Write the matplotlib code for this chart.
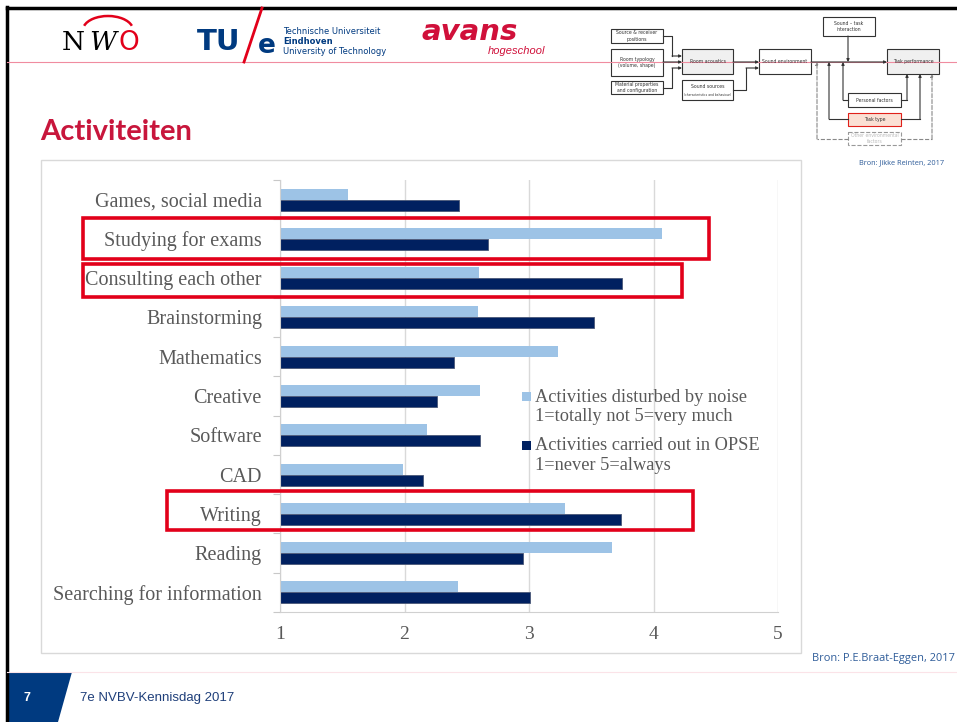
import numpy as np
import matplotlib
matplotlib.use("Agg")
import matplotlib.pyplot as plt
from matplotlib.patches import Rectangle, Polygon, Arc

# chart data
categories = ["Games, social media", "Studying for exams", "Consulting each other",
              "Brainstorming", "Mathematics", "Creative", "Software", "CAD",
              "Writing", "Reading", "Searching for information"]
disturbed = [1.55, 4.07, 2.60, 2.59, 3.23, 2.61, 2.18, 1.99, 3.29, 3.67, 2.43]
carried_out = [2.44, 2.67, 3.75, 3.52, 2.40, 2.26, 2.61, 2.15, 3.74, 2.95, 3.01]
xticks = [1, 2, 3, 4, 5]
legend_labels = [["Activities disturbed by noise", "1=totally not 5=very much"],
                 ["Activities carried out in OPSE", "1=never 5=always"]]

W, H = 957, 722
LIGHT = "#9DC3E6"
DARK = "#002060"
GREY = "#595959"
RED = "#E2001A"
SERIF = "Liberation Serif"

fig = plt.figure(figsize=(W / 100, H / 100), dpi=100)

# background layer in pixel coords
bg = fig.add_axes([0, 0, 1, 1], zorder=-5)
bg.set_xlim(0, W)
bg.set_ylim(H, 0)
bg.axis("off")

# slide frame and header line
bg.plot([7, 7], [7, H], color="black", lw=2.5)
bg.plot([7, W], [7.5, 7.5], color="black", lw=2.5)
bg.plot([7, W], [62, 62], color="#F08CA0", lw=0.8)
bg.plot([7, W], [672, 672], color="#FBE3E8", lw=0.8)

# logos (approximate, as text)
bg.text(62, 43, "N", fontsize=19, family="DejaVu Serif", va="center", color="black")
bg.text(89, 43, "W", fontsize=19, family="DejaVu Serif", style="italic", va="center", color="black")
bg.text(118, 43, "O", fontsize=19, family="DejaVu Sans", va="center", color="#E2001A")
# y axis is flipped here, so the dome is drawn with angles 190..350
bg.add_patch(Arc((108, 30), 50, 28, theta1=190, theta2=350, color="#E2001A", lw=1.8))
bg.text(197, 42, "TU", fontsize=21, family="DejaVu Sans", weight="bold", va="center", color="#003A80")
bg.plot([244, 262], [62, 8], color="#E2001A", lw=2)
bg.text(258, 46, "e", fontsize=19, family="DejaVu Sans", weight="bold", va="center", color="#003A80")
bg.text(283, 32, "Technische Universiteit", fontsize=6.0, family="Liberation Sans Narrow", va="center", color="#003A80")
bg.text(283, 41, "Eindhoven", fontsize=6.0, family="Liberation Sans Narrow", weight="bold", va="center", color="#003A80")
bg.text(283, 52, "University of Technology", fontsize=6.0, family="Liberation Sans Narrow", va="center", color="#003A80")
bg.text(422, 32, "avans", fontsize=21, family="DejaVu Sans", weight="bold", style="italic", va="center", color="#D0103A")
bg.text(488, 51, "hogeschool", fontsize=8, family="Liberation Sans", style="italic", va="center", color="#D0103A")

# title
bg.text(40, 132, "Activiteiten", fontsize=21, family="Lato", weight="bold", va="center", color="#C8163C")

# conceptual model diagram (top right)
def box(x0, y0, x1, y1, txt, fc="white", ec="#333333", ls="-", tc="#333333", fs=3.3):
    bg.add_patch(Rectangle((x0, y0), x1 - x0, y1 - y0, fc=fc, ec=ec, lw=0.8, ls=ls))
    bg.text((x0 + x1) / 2, (y0 + y1) / 2, txt, fontsize=fs, ha="center", va="center",
            color=tc, linespacing=1.3)

def arrow(xs, ys, ls="-", col="#333333"):
    bg.plot(xs[:-1], ys[:-1], color=col, lw=0.8, ls=ls)
    bg.annotate("", xy=(xs[-1], ys[-1]), xytext=(xs[-2], ys[-2]),
                arrowprops=dict(arrowstyle="-|>", color=col, lw=0.8, ls=ls,
                                mutation_scale=4, shrinkA=0, shrinkB=0))

box(611, 29, 663, 43, "Source & receiver\npositions")
box(611, 49, 663, 76, "Room typology\n(volume, shape)")
box(611, 81, 663, 94, "Material properties\nand configuration")
box(682, 49, 733, 74, "Room acoustics", fc="#F0F0F0")
box(682, 80, 733, 100, "")
bg.text(707.5, 87, "Sound sources", fontsize=3.3, ha="center", va="center", color="#333333")
bg.text(707.5, 95, "(characteristics and behaviour)", fontsize=2.2, ha="center", va="center", color="#333333")
box(759, 49, 811, 74, "Sound environment")
box(823, 17, 875, 36, "Sound \u2013 task\ninteraction")
box(887, 49, 939, 74, "Task performance", fc="#F0F0F0")
box(848, 93, 901, 107, "Personal factors")
box(848, 113, 901, 126, "Task type", fc="#FBE0D4", ec="#E0201A")
box(848, 132, 901, 145, "Other environmental\nfactors", ec="#999999", ls="--", tc="#BBBBBB")

arrow([663, 672, 672, 682], [36, 36, 56, 56])
arrow([663, 682], [62, 62])
arrow([663, 672, 672, 682], [88, 88, 68, 68])
arrow([733, 759], [62, 62])
arrow([733, 746, 746, 759], [90, 90, 68, 68])
arrow([811, 887], [62, 62])
arrow([848, 848], [36, 62])
arrow([848, 843, 843], [100, 100, 62])
arrow([848, 829, 829], [119, 119, 62])
arrow([848, 817, 817], [139, 139, 62], ls="--", col="#888888")
arrow([901, 907, 907], [100, 100, 74])
arrow([901, 920, 920], [119, 119, 74])
arrow([901, 932, 932], [139, 139, 74], ls="--", col="#888888")

bg.text(944, 163, "Bron: Jikke Reinten, 2017", fontsize=5.3, family="Open Sans",
        ha="right", va="center", color="#2E5C99")

# chart box
bg.add_patch(Rectangle((41, 160), 760, 493, fc="white", ec="#D9D9D9", lw=1))
bg.text(812, 658, "Bron: P.E.Braat-Eggen, 2017", fontsize=7.9, family="Open Sans",
        ha="left", va="center", color="#2E5C99")

# footer
bg.add_patch(Polygon([[8, 672], [72, 672], [58, H], [8, H]], closed=True, fc="#003A80", ec="none"))
bg.text(24, 698, "7", fontsize=9, family="Liberation Sans", weight="bold", color="white", va="center")
bg.text(80, 698, "7e NVBV-Kennisdag 2017", fontsize=9.5, family="Liberation Sans",
        color="#1F3F7A", va="center")

# the bar chart
ax = fig.add_axes([280 / W, 1 - 612 / H, 498 / W, 432 / H], zorder=1)
y = np.arange(len(categories))
h = 0.28
ax.barh(y - h / 2, [v - 1 for v in disturbed], left=1, height=h, color=LIGHT)
ax.barh(y + h / 2, [v - 1 for v in carried_out], left=1, height=h, color=DARK,
        edgecolor="#4A5878", linewidth=0.6)
ax.set_xlim(1, 5)
ax.set_ylim(len(categories) - 0.5, -0.5)
ax.set_xticks(xticks)
ax.set_xticklabels([str(t) for t in xticks], family=SERIF, fontsize=14, color=GREY)
ax.set_yticks(y)
ax.set_yticklabels(categories, family=SERIF, fontsize=14.5, color=GREY)
ax.set_yticks(np.arange(len(categories) + 1) - 0.5, minor=True)
ax.tick_params(axis="y", which="major", length=0, pad=13)
ax.tick_params(axis="y", which="minor", length=5, color="#C8C8C8", width=0.8)
ax.tick_params(axis="x", length=0, pad=10)
ax.grid(axis="x", color="#D9D9D9", lw=1)
ax.set_axisbelow(True)
for s in ["top", "right"]:
    ax.spines[s].set_visible(False)
for s in ["left", "bottom"]:
    ax.spines[s].set_color("#D0D0D0")

# top layer: legend and highlight frames
fg = fig.add_axes([0, 0, 1, 1], zorder=5)
fg.set_xlim(0, W)
fg.set_ylim(H, 0)
fg.axis("off")
fg.patch.set_alpha(0)

for (line1, line2), col, ytop in zip(legend_labels, [LIGHT, DARK], [397, 446]):
    fg.add_patch(Rectangle((522, ytop - 5), 9, 9, fc=col, ec="none"))
    fg.text(535, ytop, line1, family=SERIF, fontsize=13.2, color=GREY, va="center")
    fg.text(535, ytop + 19.5, line2, family=SERIF, fontsize=13.2, color=GREY, va="center")

for x0, y0, x1, y1 in [(83, 218, 709, 259), (83, 264, 682, 297), (167, 491, 693, 530)]:
    fg.add_patch(Rectangle((x0, y0), x1 - x0, y1 - y0, fill=False, ec=RED, lw=2.6))

fig.savefig("out.png", dpi=100)
